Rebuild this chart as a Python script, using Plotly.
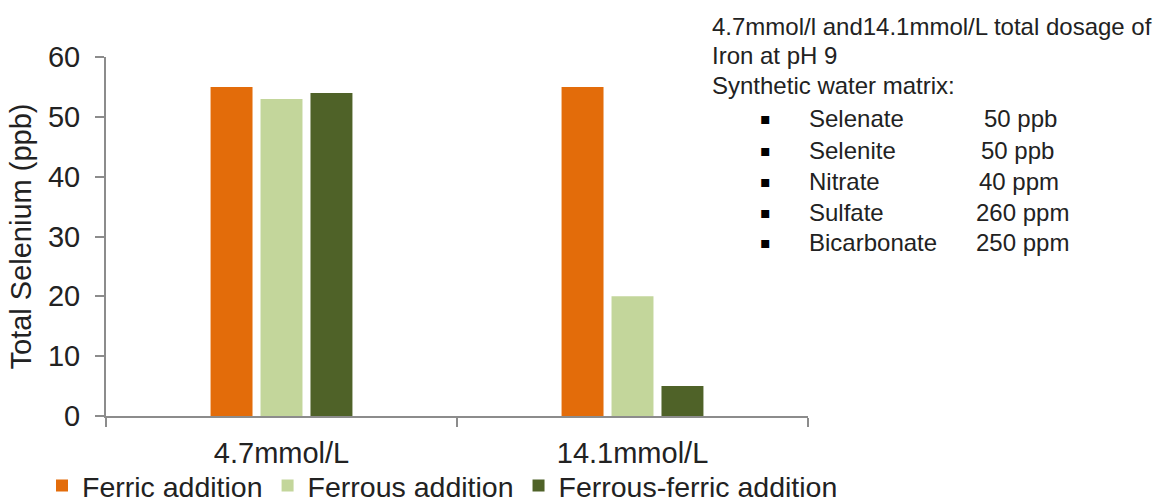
import plotly.graph_objects as go

# ---- data ----
doses = ["4.7mmol/L", "14.1mmol/L"]
ferric = [55, 55]
ferrous = [53, 20]
ferrous_ferric = [54, 5]

series_names = ["Ferric addition", "Ferrous addition", "Ferrous-ferric addition"]
series_colors = ["#E36C0A", "#C3D69B", "#4F6228"]

note_lines = [
    "4.7mmol/l and14.1mmol/L total dosage of",
    "Iron at pH 9",
    "Synthetic water matrix:",
]
matrix_species = ["Selenate", "Selenite", "Nitrate", "Sulfate", "Bicarbonate"]
matrix_levels = ["50 ppb", "50 ppb", "40 ppm", "260 ppm", "250 ppm"]

# ---- layout geometry (pixels) ----
W, H = 1160, 502
PL, PR, PT, PB = 106, 808, 57, 416
FONT = "Liberation Sans, Arial, sans-serif"
TXT = "#222222"
AXIS = "#8c8c8c"


def px_x(px):
    return (px - PL) / (PR - PL)


def px_y(py):
    return (PB - py) / (PB - PT)


fig = go.Figure()
for name, vals, col in zip(series_names, [ferric, ferrous, ferrous_ferric], series_colors):
    fig.add_trace(go.Bar(x=doses, y=vals, name=name, marker=dict(color=col, line=dict(width=0))))

fig.update_layout(
    width=W, height=H,
    margin=dict(l=PL, r=W - PR, t=PT, b=H - PB, pad=0, autoexpand=False),
    paper_bgcolor="white", plot_bgcolor="white",
    barmode="group", bargap=0.573, bargroupgap=0.16,
    font=dict(family=FONT, color=TXT, size=29),
    showlegend=True,
    legend=dict(
        orientation="h", x=px_x(42), xanchor="left", y=px_y(486), yanchor="middle",
        font=dict(size=28.5, color=TXT), bgcolor="rgba(0,0,0,0)",
        itemwidth=30, tracegroupgap=0,
    ),
)

fig.update_xaxes(
    showline=True, linecolor=AXIS, linewidth=2,
    ticks="outside", tickson="boundaries", ticklen=9, tickcolor=AXIS, tickwidth=2,
    tickfont=dict(size=29, color=TXT), ticklabelstandoff=10,
    showgrid=False, zeroline=False,
)
fig.update_yaxes(
    range=[0, 60], dtick=10, showline=True, linecolor=AXIS, linewidth=2,
    ticks="outside", ticklen=9, tickcolor=AXIS, tickwidth=2,
    tickfont=dict(size=29, color=TXT), ticklabelstandoff=9,
    showgrid=False, zeroline=False,
    title=dict(text="Total Selenium (ppb)", font=dict(size=29, color=TXT), standoff=8),
)

# ---- side note ----
note_y = [27, 55, 85]
for txt, yy in zip(note_lines, note_y):
    fig.add_annotation(text=txt, xref="paper", yref="paper", x=px_x(710), y=px_y(yy),
                       xanchor="left", yanchor="middle", showarrow=False,
                       font=dict(size=24, color=TXT, family=FONT))

item_y = [119, 150, 181, 212, 243]
level_x = [982, 979, 977, 974, 974]
for sp, lv, yy, lx in zip(matrix_species, matrix_levels, item_y, level_x):
    fig.add_annotation(text="▪", xref="paper", yref="paper", x=px_x(758), y=px_y(yy),
                       xanchor="left", yanchor="middle", showarrow=False,
                       font=dict(size=16, color="#000000", family="DejaVu Sans"))
    fig.add_annotation(text=sp, xref="paper", yref="paper", x=px_x(807), y=px_y(yy),
                       xanchor="left", yanchor="middle", showarrow=False,
                       font=dict(size=24, color=TXT, family=FONT))
    fig.add_annotation(text=lv, xref="paper", yref="paper", x=px_x(lx), y=px_y(yy),
                       xanchor="left", yanchor="middle", showarrow=False,
                       font=dict(size=24, color=TXT, family=FONT))

fig.write_html("out.html")
